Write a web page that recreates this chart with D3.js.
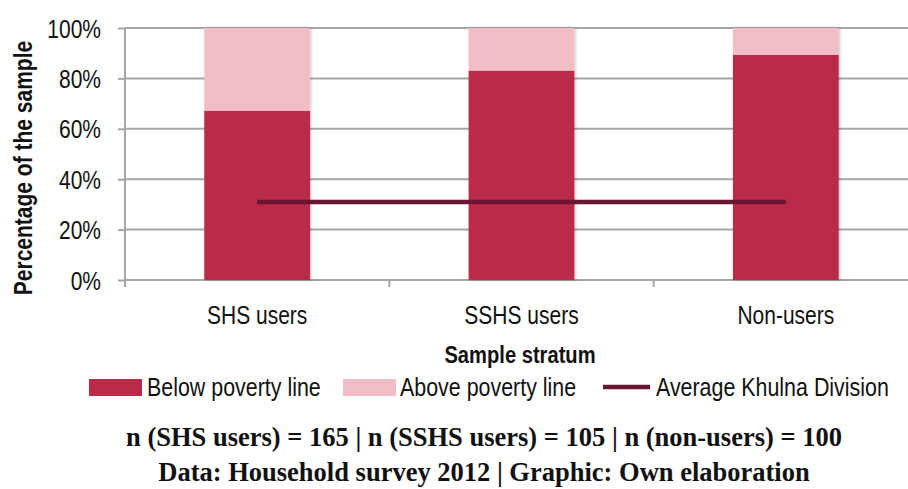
<!DOCTYPE html>
<html>
<head>
<meta charset="utf-8">
<script src="https://cdn.jsdelivr.net/npm/d3@7"></script>
<style>
  html, body { margin: 0; padding: 0; background: #fff; }
  svg { display: block; }
  .narrow { font-family: "Liberation Sans Narrow", "Arial Narrow", "Liberation Sans", Arial, sans-serif; }
  .serif { font-family: "Liberation Serif", "Times New Roman", serif; font-weight: bold; }
</style>
</head>
<body>
<svg id="chart" width="908" height="489"></svg>
<script>
// Poverty status by sample stratum (share of households)
const categories = ["SHS users", "SSHS users", "Non-users"];
const belowPoverty = [0.672, 0.831, 0.893];
const abovePoverty = [0.328, 0.169, 0.107];
const khulnaAverage = 0.31;
const yTicks = [0, 0.2, 0.4, 0.6, 0.8, 1.0];
const seriesNames = ["Below poverty line", "Above poverty line", "Average Khulna Division"];
const footnotes = [
  "n (SHS users) = 165 | n (SSHS users) = 105 | n (non-users) = 100",
  "Data: Household survey 2012 | Graphic: Own elaboration"
];

const colors = { below: "#ba2a49", above: "#f2bec6", avg: "#6b1631", grid: "#a6a6a6" };
const SQUEEZE = 0.84; // horizontal condensing for the narrow sans text

const svg = d3.select("#chart");
const plot = { left: 125, right: 918, top: 28, bottom: 280 };

const x = d3.scaleBand().domain(categories).range([plot.left, plot.right]).paddingInner(0.6).paddingOuter(0.3);
const xBand = d3.scaleBand().domain(categories).range([plot.left, plot.right]);
const y = d3.scaleLinear().domain([0, 1]).range([plot.bottom, plot.top]);

// condensed text placed at (px, py), optionally rotated
function narrowText(parent, str, px, py, opts = {}) {
  const rot = opts.rotate ? ` rotate(${opts.rotate})` : "";
  return parent.append("text")
    .attr("class", "narrow")
    .attr("transform", `translate(${px},${py})${rot} scale(${SQUEEZE},1)`)
    .attr("text-anchor", opts.anchor || "start")
    .attr("font-size", opts.size || 25)
    .attr("font-weight", opts.bold ? "bold" : "normal")
    .attr("fill", "#111")
    .text(str);
}

// soft shadow under the bars
const defs = svg.append("defs");
const f = defs.append("filter").attr("id", "shadow").attr("x", "-10%").attr("y", "-10%").attr("width", "120%").attr("height", "120%");
f.append("feDropShadow").attr("dx", 1).attr("dy", 0).attr("stdDeviation", 1.5).attr("flood-color", "#000").attr("flood-opacity", 0.25);

// gridlines
svg.append("g")
  .selectAll("line")
  .data(yTicks.filter(d => d > 0))
  .join("line")
  .attr("x1", plot.left).attr("x2", 908)
  .attr("y1", d => y(d)).attr("y2", d => y(d))
  .attr("stroke", colors.grid).attr("stroke-width", 2);

// y axis
const yAxis = svg.append("g")
  .attr("transform", `translate(${plot.left},0)`)
  .call(d3.axisLeft(y).tickValues(yTicks).tickFormat(d3.format(".0%")).tickSize(7).tickPadding(17));
yAxis.select(".domain").attr("stroke", colors.grid).attr("stroke-width", 2).attr("d", `M0,${plot.bottom + 7}V${plot.top}`);
yAxis.selectAll(".tick line").attr("stroke", colors.grid).attr("stroke-width", 2);
yAxis.selectAll(".tick text")
  .attr("class", "narrow")
  .attr("x", null)
  .attr("transform", `translate(-24,0) scale(${SQUEEZE},1)`)
  .attr("font-size", 25).attr("fill", "#111").attr("dy", "0.36em");

// x axis with ticks at category boundaries
const xAxis = svg.append("g").attr("transform", `translate(0,${plot.bottom})`);
xAxis.append("line")
  .attr("x1", plot.left).attr("x2", 908)
  .attr("stroke", colors.grid).attr("stroke-width", 2);
xAxis.selectAll("line.sep")
  .data(categories.slice(1))
  .join("line").attr("class", "sep")
  .attr("x1", d => xBand(d)).attr("x2", d => xBand(d))
  .attr("y1", 0).attr("y2", 7)
  .attr("stroke", colors.grid).attr("stroke-width", 2);
categories.forEach(c => {
  narrowText(xAxis, c, xBand(c) + xBand.bandwidth() / 2, 44, { anchor: "middle", size: 25 });
});

// stacked bars
const rows = categories.map((c, i) => ({ c, below: belowPoverty[i], above: abovePoverty[i] }));
const stack = d3.stack().keys(["below", "above"])(rows);
svg.append("g").attr("filter", "url(#shadow)")
  .selectAll("g")
  .data(stack)
  .join("g")
  .attr("fill", d => colors[d.key])
  .selectAll("rect")
  .data(d => d)
  .join("rect")
  .attr("x", d => x(d.data.c))
  .attr("width", x.bandwidth())
  .attr("y", d => y(d[1]))
  .attr("height", d => y(d[0]) - y(d[1]));

// Khulna Division average line
const center = c => xBand(c) + xBand.bandwidth() / 2;
svg.append("line")
  .attr("x1", center(categories[0]))
  .attr("x2", center(categories[categories.length - 1]))
  .attr("y1", y(khulnaAverage)).attr("y2", y(khulnaAverage))
  .attr("stroke", colors.avg).attr("stroke-width", 4.5);

// axis titles
narrowText(svg, "Percentage of the sample", 32, 168, { anchor: "middle", size: 25, bold: true, rotate: -90 });
narrowText(svg, "Sample stratum", 520, 363, { anchor: "middle", size: 24, bold: true });

// legend
const legend = svg.append("g");
const legendItems = [
  { name: seriesNames[0], type: "rect", color: colors.below, x: 89, tx: 147 },
  { name: seriesNames[1], type: "rect", color: colors.above, x: 343, tx: 400 },
  { name: seriesNames[2], type: "line", color: colors.avg, x: 603, tx: 656 }
];
legendItems.forEach(it => {
  if (it.type === "rect") {
    legend.append("rect").attr("x", it.x).attr("y", 379).attr("width", 53).attr("height", 17).attr("fill", it.color);
  } else {
    legend.append("line").attr("x1", it.x).attr("x2", it.x + 47).attr("y1", 387).attr("y2", 387)
      .attr("stroke", it.color).attr("stroke-width", 4.5);
  }
  narrowText(legend, it.name, it.tx, 396, { size: 25.5 });
});

// footnotes
svg.selectAll("text.foot")
  .data(footnotes)
  .join("text")
  .attr("class", "foot serif")
  .attr("x", 484)
  .attr("y", (d, i) => 446 + i * 35)
  .attr("text-anchor", "middle")
  .attr("font-size", 26.5).attr("fill", "#111")
  .text(d => d);
</script>
</body>
</html>
